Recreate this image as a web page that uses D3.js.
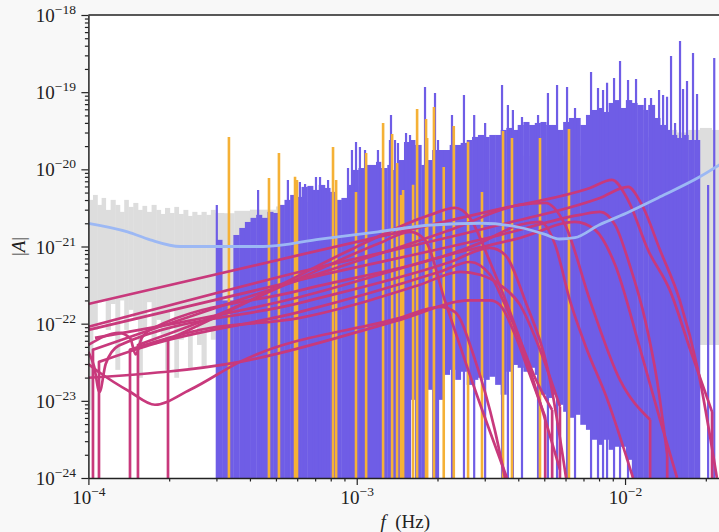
<!DOCTYPE html>
<html><head><meta charset="utf-8">
<script src="https://cdn.jsdelivr.net/npm/d3@7"></script>
<style>body{margin:0;background:#f8f8f8}svg{display:block}</style>
</head><body><svg id="c" width="719" height="532"></svg>
<script>
// ---------- DATA ----------
const xTickExps = [-4, -3, -2];
const yTickExps = [-24, -23, -22, -21, -20, -19, -18];

// sensitivity curve
const blueF = [1.0e-4,1.4e-4,1.7e-4,2.2e-4,3.0e-4,4.5e-4,7.3e-4,1.2e-3,1.9e-3,2.9e-3,4.1e-3,5.0e-3,5.7e-3,6.5e-3,8.0e-3,9.6e-3,1.35e-2,1.9e-2,2.3e-2];
const blueA = [2.0e-21,1.55e-21,1.22e-21,1.0e-21,1.0e-21,1.0e-21,1.25e-21,1.55e-21,1.9e-21,2.0e-21,1.75e-21,1.45e-21,1.25e-21,1.3e-21,1.9e-21,2.5e-21,4.4e-21,8.0e-21,1.2e-20];

// noise (gray) columns: start frequency, upper and lower envelope
const grayF  = [1.00e-4,1.04e-4,1.08e-4,1.12e-4,1.16e-4,1.21e-4,1.26e-4,1.31e-4,1.36e-4,1.41e-4,1.47e-4,1.53e-4,1.59e-4,1.65e-4,1.72e-4,1.79e-4,1.86e-4,1.93e-4,2.01e-4,2.09e-4,2.17e-4,2.26e-4,2.35e-4,2.44e-4,2.54e-4,2.64e-4,2.75e-4,2.86e-4,2.97e-4,3.2e-4,3.5e-4,4.0e-4,5.0e-4,6.0e-4,8.0e-4,1.0e-3,2.0e-3,4.0e-3,8.0e-3,1.2e-2,1.29e-2,1.42e-2,1.56e-2,1.72e-2,1.90e-2,2.1e-2,2.3e-2];
const grayHi = [4.02e-21,4.66e-21,3.46e-21,4.26e-21,2.98e-21,4.02e-21,3.46e-21,2.81e-21,4.02e-21,3.26e-21,3.67e-21,2.98e-21,3.36e-21,2.81e-21,3.46e-21,2.98e-21,2.64e-21,3.16e-21,2.72e-21,3.26e-21,2.64e-21,2.98e-21,2.49e-21,2.81e-21,2.57e-21,2.81e-21,2.57e-21,2.98e-21,2.72e-21,2.7e-21,2.9e-21,3.0e-21,3.3e-21,3.8e-21,4.0e-21,6.0e-21,1.0e-20,1.5e-20,2.2e-20,2.6e-20,3.0e-20,3.24e-20,3.0e-20,3.24e-20,3.44e-20,3.24e-20,3.3e-20];
const grayLo = [7.6e-24,8.3e-23,1.9e-22,2.0e-22,8.3e-23,1.8e-22,2.52e-23,2.0e-22,8.3e-23,1.51e-22,1.12e-22,1.99e-23,8.3e-23,1.9e-22,5.3e-23,1.12e-22,7.2e-23,2.52e-23,1.51e-22,1.99e-23,6.2e-23,8.3e-23,2.68e-23,1.12e-22,5.3e-23,2.76e-23,8.3e-23,6.2e-23,1.12e-22,1.1e-22,1.0e-22,1.2e-22,1.2e-22,1.3e-22,1.3e-22,1.5e-22,2.0e-22,2.0e-22,2.5e-22,2.5e-22,5.3e-23,5.3e-23,6.2e-23,5.3e-23,5.3e-23,5.3e-23,5.3e-23];

// data (purple) columns: start frequency, upper / lower envelope (0 = down to zero)
const purpleF  = [3.00e-4,3.15e-4,3.31e-4,3.47e-4,3.65e-4,3.83e-4,4.02e-4,4.22e-4,4.43e-4,4.65e-4,4.88e-4,5.13e-4,5.38e-4,5.65e-4,5.94e-4,6.23e-4,6.55e-4,6.87e-4,7.22e-4,7.58e-4,7.96e-4,8.35e-4,8.77e-4,9.21e-4,9.67e-4,
  1.015e-3,1.07e-3,1.12e-3,1.18e-3,1.23e-3,1.30e-3,1.36e-3,1.43e-3,1.50e-3,1.58e-3,1.65e-3,1.74e-3,1.82e-3,1.91e-3,2.01e-3,2.11e-3,2.22e-3,2.33e-3,2.44e-3,2.57e-3,2.69e-3,2.83e-3,2.97e-3,3.12e-3,3.28e-3,3.44e-3,3.61e-3,3.79e-3,3.98e-3,4.18e-3,4.39e-3,4.61e-3,4.84e-3,5.08e-3,5.34e-3,5.60e-3,5.88e-3,6.18e-3,6.49e-3,6.81e-3,7.15e-3,7.51e-3,7.89e-3,8.28e-3,8.69e-3,9.13e-3,9.59e-3,
  1.007e-2,1.06e-2,1.11e-2,1.17e-2,1.22e-2,1.29e-2,1.35e-2,1.42e-2,1.49e-2,1.56e-2,1.64e-2,1.72e-2,1.81e-2,1.90e-2];
const purpleHi = [1.22e-21,2.0e-22,2.0e-22,1.41e-21,1.74e-21,2.08e-21,2.35e-21,2.57e-21,2.35e-21,2.81e-21,2.72e-21,3.46e-21,4.02e-21,4.66e-21,4.39e-21,5.92e-21,6.10e-21,5.41e-21,6.28e-21,5.74e-21,5.10e-21,4.02e-21,4.26e-21,6.28e-21,9.82e-21,
  1.04e-20,1.14e-20,1.14e-20,1.25e-20,1.04e-20,1.14e-20,9.8e-21,1.32e-20,2.26e-20,2.40e-20,2.07e-20,1.14e-20,1.32e-20,1.78e-20,1.78e-20,1.78e-20,2.07e-20,2.07e-20,2.20e-20,2.40e-20,2.63e-20,2.79e-20,2.63e-20,2.79e-20,2.79e-20,3.24e-20,3.44e-20,3.24e-20,3.76e-20,4.11e-20,3.76e-20,3.99e-20,4.11e-20,3.76e-20,3.76e-20,3.24e-20,4.11e-20,4.63e-20,4.63e-20,3.76e-20,5.07e-20,5.88e-20,6.24e-20,5.54e-20,7.25e-20,7.9e-20,6.24e-20,
  7.9e-20,7.25e-20,6.83e-20,5.88e-20,6.83e-20,4.63e-20,3.76e-20,3.24e-20,2.79e-20,2.55e-20,2.79e-20,2.40e-20,2.40e-20,0];
const purpleLo = [0,0,0,0,0,0,0,0,0,0,0,0,0,0,0,0,0,0,0,0,0,0,0,0,0,
  0,0,0,0,0,0,0,0,0,1.03e-23,0,0,1.39e-23,0,1.03e-23,2.17e-23,2.52e-23,1.87e-23,2.38e-23,1.61e-23,1.87e-23,1.99e-23,1.87e-23,2.05e-23,1.61e-23,1.20e-23,2.38e-23,2.92e-23,2.68e-23,2.38e-23,2.68e-23,2.17e-23,1.20e-23,1.09e-23,1.20e-23,8.88e-24,7.21e-24,6.03e-24,6.59e-24,4.89e-24,4.21e-24,3.13e-24,2.69e-24,3.13e-24,2.32e-24,2.54e-24,2.54e-24,
  1.72e-24,0,0,0,0,0,0,0,0,0,0,0,0,0];

// narrow peaks of the data
const spikeF = [3.01e-4,4.29e-4,5.54e-4,6.14e-4,6.42e-4,7.05e-4,7.30e-4,7.56e-4,7.82e-4,9.28e-4,9.60e-4,9.94e-4,1.028e-3,1.074e-3,1.20e-3,1.33e-3,1.342e-3,1.389e-3,1.425e-3,1.527e-3,1.580e-3,1.797e-3,1.958e-3,2.009e-3,2.265e-3,2.51e-3,2.74e-3,3.01e-3,3.48e-3,3.66e-3,3.82e-3,4.13e-3,4.74e-3,5.16e-3,5.58e-3,6.08e-3,6.51e-3,7.47e-3,7.93e-3,8.28e-3,8.57e-3,9.10e-3,9.58e-3,1.026e-2,1.099e-2,1.187e-2,1.25e-2,1.339e-2,1.386e-2,1.434e-2,1.484e-2,1.536e-2,1.603e-2,1.645e-2,1.702e-2,1.792e-2,1.855e-2,2.04e-2,2.15e-2];
const spikeA = [3.46e-21,5.41e-21,7.29e-21,6.87e-21,6.47e-21,7.98e-21,7.98e-21,6.28e-21,7.29e-21,1.04e-20,1.78e-20,2.26e-20,1.95e-20,1.78e-20,1.78e-20,2.40e-20,5.07e-20,2.40e-20,2.20e-20,2.96e-20,2.79e-20,1.17e-19,9.76e-20,2.40e-20,5.07e-20,9.2e-20,5.07e-20,3.99e-20,1.24e-19,6.83e-20,5.88e-20,4.77e-20,5.07e-20,9.76e-20,1.24e-19,1.17e-19,6.24e-20,1.83e-19,1.13e-19,1.07e-19,1.32e-19,1.53e-19,2.54e-19,1.44e-19,1.48e-19,8.41e-20,8.41e-20,1.07e-19,9.2e-20,8.7e-20,2.94e-19,3.99e-20,4.6e-19,1.10e-19,1.40e-19,3.22e-19,9.48e-20,6.28e-21,2.77e-19];

// galactic binaries (orange)
const orangeF = [3.34e-4,4.71e-4,5.13e-4,5.89e-4,5.99e-4,8.16e-4,8.38e-4,9.94e-4,1.084e-3,1.254e-3,1.355e-3,1.414e-3,1.463e-3,1.489e-3,1.622e-3,1.679e-3,1.813e-3,1.83e-3,1.94e-3,2.11e-3,2.30e-3,2.60e-3,2.93e-3,3.51e-3,3.79e-3,4.82e-3,6.18e-3];
const orangeA = [2.63e-20,7.7e-21,1.63e-20,8.0e-21,7.3e-21,1.95e-20,7.3e-21,5.1e-21,1.63e-20,3.99e-20,2.88e-20,1.21e-20,4.66e-21,5.4e-21,6.3e-21,6.05e-20,4.5e-20,2.55e-20,6.4e-20,1.07e-20,3.65e-20,2.27e-20,5.1e-21,3.14e-20,2.55e-20,2.55e-20,3.33e-20];

// black-hole binaries (magenta); 0 = signal absent
const c1F = [1e-4,6.15e-4,3.42e-3,7.40e-3,8.94e-3,1.026e-2,1.218e-2,1.47e-2,1.75e-2,2.11e-2,2.11e-2];
const c1A = [1.80e-22,7.8e-22,3.07e-21,5.74e-21,7.3e-21,4.0e-21,9.0e-22,2.7e-22,4.6e-23,7.2e-24,0];
const c2F = [1e-4,6.15e-4,3.42e-3,8.06e-3,1.026e-2,1.156e-2,1.35e-2,1.60e-2,1.87e-2,2.20e-2];
const c2A = [9.1e-23,4.7e-22,1.91e-21,4.26e-21,5.92e-21,3.46e-21,9.0e-22,2.0e-22,2.5e-23,1e-24];
const c3F = [1e-4,6.15e-4,3.42e-3,6.79e-3,8.06e-3,9.18e-3,1.04e-2,1.188e-2,1.315e-2,1.436e-2,1.436e-2];
const c3A = [8.3e-23,3.7e-22,1.41e-21,2.57e-21,2.81e-21,1.91e-21,5.8e-22,1.12e-22,1.87e-23,2.0e-24,0];
const c4F = [1e-4,1.30e-4,1.43e-4,1.50e-4,1.58e-4,1.75e-4,6.15e-4,2.88e-3,4.06e-3,4.82e-3,5.49e-3,6.23e-3,7.1e-3,8.6e-3,1.071e-2];
const c4A = [5.3e-23,7.6e-23,6.5e-23,4.0e-23,6.5e-23,8.8e-23,2.7e-22,1.11e-21,1.91e-21,2.08e-21,1.05e-21,2.0e-22,5.3e-23,1.03e-23,1e-24];
const c5F = [1.058e-4,6.15e-4,2.43e-3,4.06e-3,6.51e-3,7.73e-3,9.18e-3,1.14e-2,1.35e-2,1.563e-2];
const c5A = [6.55e-23,2.22e-22,8.5e-22,1.29e-21,2.08e-21,1.64e-21,5.8e-22,4.6e-23,5.7e-24,1e-24];
const c6F = [1e-4,1.05e-4,1.10e-4,1.16e-4,1.30e-4,6.15e-4,2.23e-3,3.14e-3,3.57e-3,4.24e-3,5.25e-3,6.03e-3];
const c6A = [4.3e-23,2.8e-23,1.3e-23,3.0e-23,5.2e-23,1.86e-22,6.3e-22,9.6e-22,7.8e-22,2.0e-22,1.87e-23,1e-24];
const c7F = [1.095e-4,1.095e-4,1.697e-4,6.15e-4,2.04e-3,2.64e-3,3.14e-3,3.51e-3,4.06e-3,4.62e-3,5.35e-3,5.35e-3];
const c7A = [0,3.2e-23,5.3e-23,1.42e-22,4.7e-22,6.3e-22,4.3e-22,2.0e-22,6.2e-23,1.99e-23,7.6e-24,0];
const c8F = [1.429e-4,1.429e-4,2.606e-4,6.15e-4,1.72e-3,2.43e-3,2.88e-3,3.42e-3,4.06e-3,4.82e-3,5.72e-3,5.72e-3];
const c8A = [0,4.6e-23,8.3e-23,1.19e-22,3.19e-22,4.7e-22,4.3e-22,3.19e-22,1.75e-22,4.6e-23,8.4e-24,0];
const c9F = [1e-4,3.67e-4,1.45e-3,2.64e-3,3.14e-3,3.42e-3,3.89e-3,4.42e-3,5.04e-3,5.04e-3];
const c9A = [1.99e-23,3.2e-23,1.12e-22,2.0e-22,2.0e-22,1.75e-22,7.2e-23,2.17e-23,6.2e-24,0];
const c10F = [1e-4,1.104e-4,1.429e-4,1.771e-4,2.392e-4,3.67e-4,1.45e-3,2.04e-3,2.32e-3,2.76e-3,3.27e-3,3.57e-3];
const c10A = [3.0e-23,2.31e-23,1.31e-23,8.9e-24,1.39e-23,3.2e-23,1.19e-22,1.65e-22,1.42e-22,3.4e-23,4.2e-24,1e-24];
const c11F = [1.53e-4,1.53e-4,2.606e-4,6.15e-4,1.22e-3,1.58e-3,1.796e-3,2.13e-3,2.76e-3,3.63e-3];
const c11A = [0,5.3e-23,1.05e-22,3.9e-22,1.11e-21,1.55e-21,1.22e-21,2.0e-22,1.39e-23,1e-24];
const c12F = [1.98e-4,1.98e-4,4.01e-4,9.44e-4,1.88e-3,2.32e-3,2.64e-3,3.14e-3,4.06e-3,5.72e-3];
const c12A = [0,6.2e-23,2.0e-22,9.0e-22,2.57e-21,3.16e-21,2.35e-21,6.3e-22,6.2e-23,1.28e-24];
const c13F = [1.04e-4,1.04e-4,1.697e-4,6.15e-4,2.23e-3,4.06e-3,5.04e-3,5.98e-3,7.40e-3,9.57e-3,1.24e-2,1.24e-2];
const c13A = [0,4.6e-23,8.3e-23,3.7e-22,1.64e-21,3.46e-21,3.67e-21,1.91e-21,2.0e-22,1.87e-23,5.7e-24,0];

// ---------- DRAW ----------
const svg = d3.select('#c');
const X0 = 88.4, X1 = 722, Y0 = 15, Y1 = 478;
const x = d3.scaleLog().domain([1e-4, 0.02298]).range([X0, X1]);
const y = d3.scaleLog().domain([1e-24, 1e-18]).range([Y1, Y0]);
const yv = v => v > 0 ? y(v) : Y1 + 30;

const C = {gray:'#dddddd', purple:'#6f5de6', orange:'#f5b136', mag:'#c8397c', blue:'#9cb8f4', axis:'#222'};
const FONT = "'Liberation Serif','DejaVu Serif',serif";

svg.append('rect').attr('width',719).attr('height',532).attr('fill','#f8f8f8');
svg.append('rect').attr('x',X0).attr('y',Y0).attr('width',X1-X0).attr('height',Y1-Y0).attr('fill','#fff');
svg.append('clipPath').attr('id','clip').append('rect').attr('x',X0).attr('y',Y0).attr('width',X1-X0).attr('height',Y1-Y0);
const plot = svg.append('g').attr('clip-path','url(#clip)');

function columns(F, Hi, Lo, color, endF){
  const g = plot.append('g').attr('fill', color);
  F.forEach((f,i)=>{
    const f2 = i < F.length-1 ? F[i+1] : endF;
    if (!(Hi[i] > 0)) return;
    const xa = x(f), xb = x(f2);
    const ya = yv(Hi[i]), yb = yv(Lo[i]);
    g.append('rect').attr('x',xa).attr('width',Math.max(0.8,xb-xa+0.4))
      .attr('y',ya).attr('height',Math.max(0.5,yb-ya));
  });
}
columns(grayF, grayHi, grayLo, C.gray, 2.5e-2);
columns(purpleF, purpleHi, purpleLo, C.purple, 1.9e-2);

plot.append('g').selectAll('line').data(spikeF).join('line')
  .attr('x1',d=>x(d)).attr('x2',d=>x(d))
  .attr('y1',Y1+5).attr('y2',(d,i)=>y(spikeA[i]))
  .attr('stroke',C.purple).attr('stroke-width',2.2);

plot.append('g').selectAll('line').data(orangeF).join('line')
  .attr('x1',d=>x(d)).attr('x2',d=>x(d))
  .attr('y1',Y1+5).attr('y2',(d,i)=>y(orangeA[i]))
  .attr('stroke',C.orange).attr('stroke-width',2.6);

const curves = [[c1F,c1A],[c2F,c2A],[c3F,c3A],[c4F,c4A],[c5F,c5A],[c6F,c6A],[c7F,c7A],[c8F,c8A],[c9F,c9A],[c10F,c10A],[c11F,c11A],[c12F,c12A],[c13F,c13A]];
const mline = d3.line().x(d=>x(d[0])).y(d=>y(d[1])).curve(d3.curveMonotoneX);
const mg = plot.append('g').attr('fill','none').attr('stroke',C.mag).attr('stroke-width',2.7).attr('stroke-linejoin','round');
curves.forEach(([F,A])=>{
  const pts = F.map((f,i)=>[f,A[i]]);
  const live = pts.filter(p=>p[1]>0);
  let d = mline(live);
  if (A[0] === 0) d = `M${x(F[0])},${Y1+5}L${x(live[0][0])},${y(live[0][1])}` + d.replace(/^M/,'L');
  if (A[A.length-1] === 0) { const l = live[live.length-1]; d += `M${x(l[0])},${y(l[1])}L${x(F[F.length-1])},${Y1+5}`; }
  mg.append('path').attr('d', d);
});

const bl = d3.line().x((d,i)=>x(d)).y((d,i)=>y(blueA[i])).curve(d3.curveMonotoneX);
plot.append('path').attr('d', bl(blueF)).attr('fill','none').attr('stroke',C.blue).attr('stroke-width',2.8);

// ---------- AXES ----------
const yMajor = yTickExps.map(e=>Math.pow(10,e));
const yMinor = []; yTickExps.slice(0,-1).forEach(e=>{for(let m=2;m<=9;m++) yMinor.push(m*Math.pow(10,e));});
const xMajor = xTickExps.map(e=>Math.pow(10,e));
const xMinor = []; [-4,-3,-2].forEach(e=>{for(let m=2;m<=9;m++){const v=m*Math.pow(10,e); if(v<=0.0229) xMinor.push(v);}});

function styleAxis(g){ g.selectAll('path.domain').attr('stroke',C.axis).attr('stroke-width',1.5); g.selectAll('.tick line').attr('stroke',C.axis).attr('stroke-width',1.2); g.selectAll('.tick text').remove(); }

const yAxisMinor = svg.append('g').attr('transform',`translate(${X0},0)`).call(d3.axisLeft(y).tickValues(yMinor).tickSize(3.5).tickSizeOuter(0).tickFormat(()=>''));
styleAxis(yAxisMinor); yAxisMinor.select('path.domain').remove();
const yAxis = svg.append('g').attr('transform',`translate(${X0},0)`).call(d3.axisLeft(y).tickValues(yMajor).tickSize(7).tickSizeOuter(0).tickFormat(()=>''));
styleAxis(yAxis);
yAxis.selectAll('.tick').each(function(d,i){
  const t = d3.select(this).append('text').attr('x',-12.5).attr('y',6.5).attr('text-anchor','end')
    .attr('fill','#222').attr('font-family',FONT).attr('font-size',19);
  t.append('tspan').text('10');
  t.append('tspan').attr('dy',-8).attr('font-size',13.5).text('\u2212'+Math.abs(yTickExps[i]));
});

const xAxisMinor = svg.append('g').attr('transform',`translate(0,${Y1})`).call(d3.axisBottom(x).tickValues(xMinor).tickSize(3.5).tickSizeOuter(0).tickFormat(()=>''));
styleAxis(xAxisMinor); xAxisMinor.select('path.domain').remove();
const xAxis = svg.append('g').attr('transform',`translate(0,${Y1})`).call(d3.axisBottom(x).tickValues(xMajor).tickSize(7).tickSizeOuter(0).tickFormat(()=>''));
styleAxis(xAxis);
xAxis.selectAll('.tick').each(function(d,i){
  const t = d3.select(this).append('text').attr('x',0).attr('y',25.5).attr('text-anchor','middle')
    .attr('fill','#222').attr('font-family',FONT).attr('font-size',19);
  t.append('tspan').text('10');
  t.append('tspan').attr('dy',-8).attr('font-size',13.5).text('\u2212'+Math.abs(xTickExps[i]));
});

// top spine
svg.append('line').attr('x1',X0).attr('x2',X1).attr('y1',Y0).attr('y2',Y0).attr('stroke',C.axis).attr('stroke-width',1.5);

// labels
const xl = svg.append('text').attr('x',(X0+X1)/2).attr('y',528).attr('text-anchor','middle')
  .attr('font-family',FONT).attr('font-size',19).attr('fill','#222');
xl.append('tspan').attr('font-style','italic').text('f');
xl.append('tspan').text('\u2002(Hz)');
const yl = svg.append('text').attr('transform',`translate(25,${(Y0+Y1)/2}) rotate(-90)`).attr('text-anchor','middle')
  .attr('font-family',FONT).attr('font-size',19).attr('fill','#222');
yl.append('tspan').text('|');
yl.append('tspan').attr('font-style','italic').text('A');
yl.append('tspan').text('|');
</script></body></html>
